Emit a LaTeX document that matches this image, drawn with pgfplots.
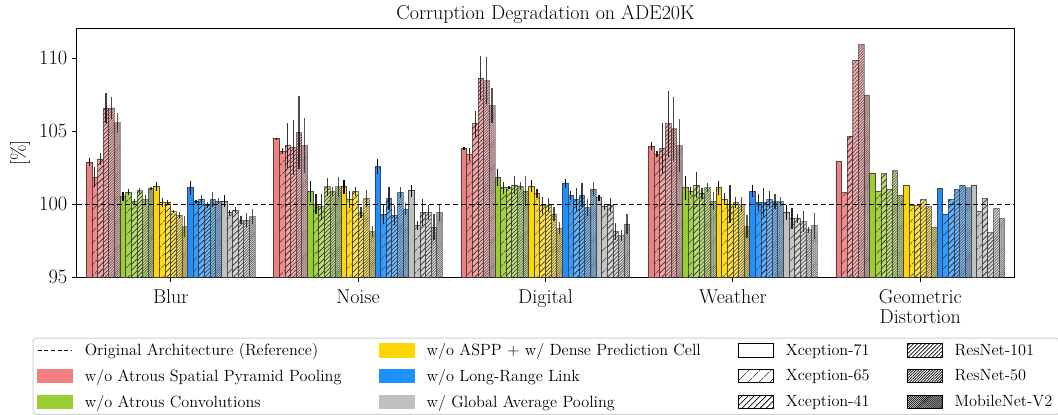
\documentclass[border=0pt]{standalone}
\usepackage{pgfplots}
\pgfplotsset{compat=1.18}
\usepackage{pgfplotstable}
\usetikzlibrary{patterns.meta}

% condition colours
\definecolor{cASPP}{HTML}{F08080}
\definecolor{cAtrous}{HTML}{9ACD32}
\definecolor{cDPC}{HTML}{FFD700}
\definecolor{cLRL}{HTML}{1E90FF}
\definecolor{cGAP}{HTML}{C0C0C0}

% columns: group, then value/error for Xception-71, -65, -41, ResNet-101, ResNet-50, MobileNet-V2
\pgfplotstableread{
g v1 e1 v2 e2 v3 e3 v4 e4 v5 e5 v6 e6
0 102.89 0.27 101.86 0.68 103.09 0.40 106.59 1.00 106.59 0.75 105.57 0.70
1 104.48 0.05 103.61 0.20 104.00 1.55 103.89 1.90 104.89 2.50 104.00 1.90
2 103.80 0.10 103.39 0.45 105.50 0.90 108.64 1.50 108.45 1.60 106.75 1.20
3 103.98 0.30 103.41 0.20 103.80 1.75 105.50 2.25 105.16 2.20 104.00 1.80
4 102.95 0 100.77 0 104.66 0 109.86 0 110.95 0 107.48 0
}\tblASPP

\pgfplotstableread{
g v1 e1 v2 e2 v3 e3 v4 e4 v5 e5 v6 e6
0 100.50 0.30 100.80 0.20 100.16 0.20 100.91 0.20 100.32 0.30 101.07 0.10
1 100.86 0.70 100.00 0.70 99.82 0.90 101.18 0.60 100.86 0.30 101.18 0.70
2 101.82 0.60 101.11 0.40 101.11 0.10 101.30 0.60 101.23 0.30 100.89 1.00
3 101.11 0.80 100.89 0.30 101.30 0.90 100.73 0.40 101.11 0.30 100.20 0.60
4 102.09 0 100.89 0 102.09 0 101.00 0 102.30 0 100.61 0
}\tblAtrous

\pgfplotstableread{
g v1 e1 v2 e2 v3 e3 v4 e4 v5 e5 v6 e6
0 101.18 0.30 100.11 0.30 100.11 0.20 99.48 0.10 99.25 0.20 98.45 0.70
1 101.18 0.50 100.32 0.60 100.86 0.30 99.43 0.40 100.39 0.60 98.11 0.40
2 101.23 0.40 100.73 0.30 99.89 0.60 99.93 0.50 99.32 0.50 98.34 0.40
3 101.11 0.50 100.34 0.40 100.00 1.30 100.11 0.40 99.98 0.50 98.45 0.80
4 101.30 0 99.93 0 99.93 0 100.32 0 99.82 0 98.41 0
}\tblDPC

\pgfplotstableread{
g v1 e1 v2 e2 v3 e3 v4 e4 v5 e5 v6 e6
0 101.11 0.50 100.20 0.10 100.32 0.30 99.93 0.20 100.32 0.50 100.20 0.20
1 102.59 0.50 99.30 0.70 100.39 0.80 99.25 0.70 100.80 0.40 99.64 0.40
2 101.41 0.30 100.61 0.30 100.32 0.80 100.61 0.80 99.75 0.60 101.02 0.50
3 100.89 0.40 100.11 0.60 100.11 1.00 100.32 0.60 100.16 0.50 100.16 0.30
4 101.07 0 99.32 0 100.32 0 101.00 0 101.30 0 101.11 0
}\tblLRL

\pgfplotstableread{
g v1 e1 v2 e2 v3 e3 v4 e4 v5 e5 v6 e6
0 100.20 0.40 99.41 0.20 99.59 0.20 98.90 0.30 98.90 0.50 99.14 0.50
1 100.91 0.40 98.52 0.30 99.43 0.90 99.43 0.50 98.41 0.90 99.43 0.60
2 100.43 0.20 99.82 0.20 99.93 0.50 98.11 0.60 97.84 0.40 98.64 0.70
3 99.43 0.50 99.02 0.70 99.02 0.30 98.80 0.70 98.23 0.20 98.52 0.90
4 101.30 0 99.48 0 100.39 0 98.05 0 99.70 0 99.02 0
}\tblGAP

% one style per backbone: fill transparency and hatch density
\tikzset{
  hatch/.style={postaction={draw=none, fill opacity=0.8, pattern color=black,
      pattern={Lines[angle=45,distance=#1,line width=0.55pt]}}},
  bb1/.style={fill opacity=1.00, draw=black!75, draw opacity=0.95},
  bb2/.style={fill opacity=0.90, draw=black!75, draw opacity=0.85, hatch=6.4pt},
  bb3/.style={fill opacity=0.70, draw=black!75, draw opacity=0.75, hatch=3.2pt},
  bb4/.style={fill opacity=0.60, draw=black!75, draw opacity=0.65, hatch=2.12pt},
  bb5/.style={fill opacity=0.50, draw=black!75, draw opacity=0.55, hatch=1.45pt},
  bb6/.style={fill opacity=0.40, draw=black!75, draw opacity=0.50, hatch=1.05pt},
  err1/.style={draw=black, draw opacity=1.00},
  err2/.style={draw=black, draw opacity=0.85},
  err3/.style={draw=black, draw opacity=0.80},
  err4/.style={draw=black, draw opacity=0.75},
  err5/.style={draw=black, draw opacity=0.70},
  err6/.style={draw=black, draw opacity=0.65},
}

% #1 table, #2 colour, #3 backbone number, #4 offset of the bar within its group
\newcommand{\bbplot}[4]{%
  \addplot[forget plot, ybar, bar width=0.03, bar shift=0, fill=#2,
    line width=0.6pt, bb#3,
    error bars/.cd, y dir=both, y explicit, error mark=none,
    error bar style={line width=0.9pt, err#3}]
    table[x expr=\thisrow{g}+#4, y=v#3, y error=e#3] {#1};
}

\newcommand{\swatch}[1]{\addlegendimage{legend image code/.code={%
  \fill[#1, sharp corners] (0pt,-5pt) rectangle (26pt,5pt);}}}
\newcommand{\hatchswatch}[1]{\addlegendimage{legend image code/.code={%
  \draw[black, sharp corners, line width=0.75pt, pattern color=black,
    pattern={Lines[angle=45,distance=#1,line width=0.55pt]}]
    (0pt,-5pt) rectangle (26pt,5pt);}}}

\begin{document}
\begin{tikzpicture}
\begin{axis}[
  name=ax,
  scale only axis, width=702.75pt, height=186pt,
  xmin=-0.5, xmax=4.5, ymin=95, ymax=112,
  xtick={0,1,2,3,4},
  xticklabels={Blur,Noise,Digital,Weather,{Geometric\\Distortion}},
  xticklabel style={align=center, font=\fontsize{15}{15}\selectfont, yshift=-2pt},
  ytick={95,100,105,110},
  yticklabel style={font=\fontsize{15.3}{17}\selectfont},
  /pgf/number format/assume math mode=true,
  tick align=outside, xtick pos=lower, ytick pos=left,
  major tick length=3.75pt,
  tick style={black, line width=0.75pt},
  axis line style={line width=0.75pt},
  title={Corruption Degradation on ADE20K},
  title style={font=\fontsize{15}{17}\selectfont, yshift=-5.5pt},
  ylabel={[\%]},
  ylabel style={font=\fontsize{15}{17}\selectfont,
    at={(axis description cs:-0.0608,0.5)}, anchor=center},
  legend columns=4,
  legend cell align=left,
  legend style={at={(axis description cs:-0.0473,-0.2446)}, anchor=north west,
    draw=black!18, line width=0.75pt, rounded corners=2pt,
    font=\fontsize{12.2}{14}\selectfont, row sep=4.6pt,
    /tikz/every odd column/.append style={column sep=7pt},
    /tikz/every even column/.append style={column sep=26pt}},
]
% legend entries, row by row
\addlegendimage{legend image code/.code={%
  \draw[black, line width=0.75pt, dash pattern=on 3pt off 2pt] (0pt,0pt) -- (26pt,0pt);}}
\addlegendentry{Original Architecture (Reference)}
\swatch{cDPC}\addlegendentry{w/o ASPP + w/ Dense Prediction Cell}
\hatchswatch{100pt}\addlegendentry{Xception-71}
\hatchswatch{2.12pt}\addlegendentry{ResNet-101}
\swatch{cASPP}\addlegendentry{w/o Atrous Spatial Pyramid Pooling}
\swatch{cLRL}\addlegendentry{w/o Long-Range Link}
\hatchswatch{6.4pt}\addlegendentry{Xception-65}
\hatchswatch{1.45pt}\addlegendentry{ResNet-50}
\swatch{cAtrous}\addlegendentry{w/o Atrous Convolutions}
\swatch{cGAP}\addlegendentry{w/ Global Average Pooling}
\hatchswatch{3.2pt}\addlegendentry{Xception-41}
\hatchswatch{1.05pt}\addlegendentry{MobileNet-V2}

% w/o ASPP
\bbplot{\tblASPP}{cASPP}{1}{-0.435}
\bbplot{\tblASPP}{cASPP}{2}{-0.405}
\bbplot{\tblASPP}{cASPP}{3}{-0.375}
\bbplot{\tblASPP}{cASPP}{4}{-0.345}
\bbplot{\tblASPP}{cASPP}{5}{-0.315}
\bbplot{\tblASPP}{cASPP}{6}{-0.285}
% w/o atrous convolutions
\bbplot{\tblAtrous}{cAtrous}{1}{-0.255}
\bbplot{\tblAtrous}{cAtrous}{2}{-0.225}
\bbplot{\tblAtrous}{cAtrous}{3}{-0.195}
\bbplot{\tblAtrous}{cAtrous}{4}{-0.165}
\bbplot{\tblAtrous}{cAtrous}{5}{-0.135}
\bbplot{\tblAtrous}{cAtrous}{6}{-0.105}
% w/o ASPP + w/ DPC
\bbplot{\tblDPC}{cDPC}{1}{-0.075}
\bbplot{\tblDPC}{cDPC}{2}{-0.045}
\bbplot{\tblDPC}{cDPC}{3}{-0.015}
\bbplot{\tblDPC}{cDPC}{4}{0.015}
\bbplot{\tblDPC}{cDPC}{5}{0.045}
\bbplot{\tblDPC}{cDPC}{6}{0.075}
% w/o long-range link
\bbplot{\tblLRL}{cLRL}{1}{0.105}
\bbplot{\tblLRL}{cLRL}{2}{0.135}
\bbplot{\tblLRL}{cLRL}{3}{0.165}
\bbplot{\tblLRL}{cLRL}{4}{0.195}
\bbplot{\tblLRL}{cLRL}{5}{0.225}
\bbplot{\tblLRL}{cLRL}{6}{0.255}
% w/ global average pooling
\bbplot{\tblGAP}{cGAP}{1}{0.285}
\bbplot{\tblGAP}{cGAP}{2}{0.315}
\bbplot{\tblGAP}{cGAP}{3}{0.345}
\bbplot{\tblGAP}{cGAP}{4}{0.375}
\bbplot{\tblGAP}{cGAP}{5}{0.405}
\bbplot{\tblGAP}{cGAP}{6}{0.435}

% reference level of the original architecture
\addplot[forget plot, black, line width=0.75pt, dash pattern=on 3.5pt off 2.5pt]
  coordinates {(-0.5,100) (4.5,100)};
\end{axis}
\pgfresetboundingbox
\path[use as bounding box] ([xshift=-57.75pt,yshift=-102.75pt]ax.south west)
  rectangle ([xshift=33pt,yshift=21.75pt]ax.north east);
\end{tikzpicture}
\end{document}
